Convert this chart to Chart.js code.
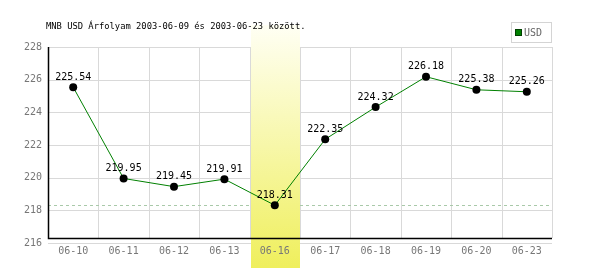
<!DOCTYPE html>
<html>
<head>
<meta charset="utf-8">
<script src="https://cdn.jsdelivr.net/npm/chart.js@4.4.1/dist/chart.umd.min.js"></script>
<style>
  body { margin: 0; background: #fff; }
</style>
</head>
<body>
<canvas id="rateChart" width="600" height="270"></canvas>
<script>
const titleText = "MNB USD Árfolyam 2003-06-09 és 2003-06-23 között."
const seriesName = "USD"
const days = ["06-10", "06-11", "06-12", "06-13", "06-16", "06-17", "06-18", "06-19", "06-20", "06-23"]
const rates = [225.54, 219.95, 219.45, 219.91, 218.31, 222.35, 224.32, 226.18, 225.38, 225.26]
const yMin = 216
const yMax = 228
const yStep = 2

const lowest = Math.min(...rates)
const lowIndex = rates.indexOf(lowest)
const mono = "'DejaVu Sans Mono', 'Liberation Mono', monospace"

const decor = {
	id: "decor",
	beforeDraw(chart) {
		const { ctx, chartArea: a, scales } = chart
		const x = scales.x
		const y = scales.y
		const w = x.width / days.length
		const axisY = a.bottom - 5
		ctx.save()
		ctx.lineWidth = 1
		ctx.strokeStyle = "#d9d9d9"
		// horizontal grid
		y.ticks.forEach((t) => {
			const py = Math.round(y.getPixelForValue(t.value)) + 0.5
			ctx.beginPath()
			ctx.moveTo(a.left, py)
			ctx.lineTo(a.right, py)
			ctx.stroke()
		})
		// vertical grid between days
		for (let i = 0; i <= days.length; i++) {
			const px = Math.round(x.getPixelForValue(0) - w / 2 + i * w) + 0.5
			ctx.beginPath()
			ctx.moveTo(px, a.top)
			ctx.lineTo(px, axisY)
			ctx.stroke()
		}
		// dashed line at the lowest rate
		const ly = Math.round(y.getPixelForValue(lowest)) + 0.5
		ctx.strokeStyle = "#a9c9a9"
		ctx.setLineDash([3, 3])
		ctx.beginPath()
		ctx.moveTo(a.left, ly)
		ctx.lineTo(a.right, ly)
		ctx.stroke()
		ctx.setLineDash([])
		// highlighted day
		const bx = Math.round(x.getPixelForValue(lowIndex) - w / 2) + 1
		const bw = Math.round(w) - 1
		const grad = ctx.createLinearGradient(0, 25, 0, 268)
		grad.addColorStop(0, "#fffff4")
		grad.addColorStop(1, "#efef5c")
		ctx.fillStyle = grad
		ctx.fillRect(bx, 25, bw, 243)
		ctx.restore()
	},
	afterDatasetsDraw(chart) {
		const { ctx, chartArea: a } = chart
		const axisY = Math.round(a.bottom - 5) + 0.5
		const axisX = Math.round(a.left) + 0.5
		ctx.save()
		// axis lines
		ctx.strokeStyle = "#000"
		ctx.lineWidth = 1.5
		ctx.beginPath()
		ctx.moveTo(axisX, a.top)
		ctx.lineTo(axisX, axisY)
		ctx.lineTo(a.right, axisY)
		ctx.stroke()
		// value labels
		const meta = chart.getDatasetMeta(0)
		ctx.fillStyle = "#000"
		ctx.font = "10px " + mono
		ctx.textAlign = "center"
		ctx.textBaseline = "middle"
		meta.data.forEach((pt, i) => {
			ctx.fillText(rates[i].toFixed(2), pt.x, pt.y - 10)
		})
		// title
		ctx.textAlign = "left"
		ctx.font = "8.8px " + mono
		ctx.fillText(titleText, 46, 27)
		// legend
		ctx.strokeStyle = "#d4d4d4"
		ctx.lineWidth = 1
		ctx.strokeRect(511.5, 22.5, 40, 20)
		ctx.fillStyle = "#008000"
		ctx.fillRect(515, 29, 7, 7)
		ctx.strokeStyle = "#004000"
		ctx.strokeRect(515.5, 29.5, 6, 6)
		ctx.fillStyle = "#666"
		ctx.font = "10px " + mono
		ctx.fillText(seriesName, 524, 33)
		ctx.restore()
	},
}

new Chart(document.getElementById("rateChart"), {
	type: "line",
	data: {
		labels: days,
		datasets: [
			{
				label: seriesName,
				data: rates,
				borderColor: "#008000",
				borderWidth: 1,
				tension: 0,
				pointRadius: 4,
				pointBackgroundColor: "#000",
				pointBorderColor: "#000",
				pointBorderWidth: 0,
			},
		],
	},
	options: {
		responsive: false,
		animation: false,
		layout: { padding: { left: 0, right: 48, top: 47, bottom: 0 } },
		plugins: {
			legend: { display: false },
			title: { display: false },
			tooltip: { enabled: false },
		},
		scales: {
			x: {
				offset: true,
				grid: { display: false, drawTicks: false },
				border: { display: false },
				ticks: { color: "#777", font: { family: mono, size: 10 }, padding: 2, maxRotation: 0 },
				afterFit: (s) => { s.height = 27 },
			},
			y: {
				min: yMin,
				max: yMax,
				grid: { display: false, drawTicks: false },
				border: { display: false },
				ticks: { stepSize: yStep, color: "#777", font: { family: mono, size: 10 }, padding: 6 },
				afterFit: (s) => { s.width = 48 },
			},
		},
	},
	plugins: [decor],
})
</script>
</body>
</html>
